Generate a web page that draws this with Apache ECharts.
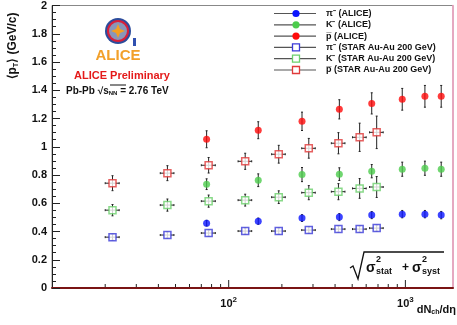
<!DOCTYPE html>
<html>
<head>
<meta charset="utf-8">
<script src="https://cdn.jsdelivr.net/npm/echarts@6/dist/echarts.min.js"></script>
<style>
  html, body { margin: 0; padding: 0; background: #fff; }
  #chart { width: 457px; height: 325px; }
</style>
</head>
<body>
<div id="chart"></div>
<script>
// ALICE Pb-Pb 2.76 TeV
var aliceX  = [75, 147, 260, 423, 645, 960, 1290, 1595];
var alicePi = [0.459, 0.473, 0.495, 0.502, 0.516, 0.523, 0.523, 0.516];
var aliceK  = [0.735, 0.763, 0.803, 0.806, 0.827, 0.841, 0.848, 0.841];
var aliceP  = [1.053, 1.117, 1.18, 1.265, 1.307, 1.336, 1.357, 1.357];
var alicePiErr = [0.02, 0.022, 0.024, 0.025, 0.025, 0.026, 0.026, 0.026];
var aliceKErr  = [0.038, 0.045, 0.05, 0.045, 0.047, 0.05, 0.05, 0.05];
var alicePErr  = [0.06, 0.06, 0.065, 0.068, 0.075, 0.077, 0.077, 0.077];

// STAR Au-Au 200 GeV
var starX  = [22, 45, 77, 124, 192, 284, 418, 551, 688];
var starXErr = [2, 4, 7, 11, 17, 25, 37, 49, 61];
var starPi = [0.36, 0.375, 0.389, 0.403, 0.403, 0.41, 0.417, 0.417, 0.424];
var starK  = [0.551, 0.587, 0.615, 0.622, 0.643, 0.675, 0.682, 0.705, 0.715];
var starP  = [0.742, 0.813, 0.869, 0.897, 0.947, 0.989, 1.025, 1.067, 1.102];
var starPiErr = [0.02, 0.02, 0.02, 0.02, 0.02, 0.02, 0.02, 0.02, 0.02];
var starKErr  = [0.04, 0.043, 0.043, 0.042, 0.045, 0.05, 0.057, 0.07, 0.074];
var starPErr  = [0.053, 0.053, 0.055, 0.057, 0.063, 0.07, 0.075, 0.1, 0.115];

var xMajorTicks = [100, 1000];
var xMinorTicks = [20, 30, 40, 50, 60, 70, 80, 90, 200, 300, 400, 500, 600, 700, 800, 900];

var names = ['π\u207B (ALICE)', 'K\u207B (ALICE)', 'p\u0305 (ALICE)',
  'π\u207B (STAR Au-Au 200 GeV)', 'K\u207B (STAR Au-Au 200 GeV)', 'p\u0305 (STAR Au-Au 200 GeV)'];
var colors = ['#0a14ff', '#4ccc4c', '#ff0a0a', '#3a3ad8', '#6cd06c', '#e03a3a'];

var font = 'Liberation Sans, Arial, sans-serif';

function pts(xs, ys, ey, ex) {
  return xs.map(function (x, i) { return [x, ys[i], ey[i], ex ? ex[i] : 0]; });
}

function errItem(params, api) {
  var x = api.value(0), y = api.value(1), ey = api.value(2), ex = api.value(3);
  var c = api.coord([x, y]);
  var lo = api.coord([x, y - ey]);
  var hi = api.coord([x, y + ey]);
  var st = { stroke: '#222', lineWidth: 1 };
  var kids = [
    { type: 'line', shape: { x1: c[0], y1: lo[1], x2: c[0], y2: hi[1] }, style: st },
    { type: 'line', shape: { x1: c[0] - 1, y1: lo[1], x2: c[0] + 1, y2: lo[1] }, style: st },
    { type: 'line', shape: { x1: c[0] - 1, y1: hi[1], x2: c[0] + 1, y2: hi[1] }, style: st }
  ];
  if (ex) {
    var l = api.coord([x - ex, y]);
    var r = api.coord([x + ex, y]);
    kids.push({ type: 'line', shape: { x1: l[0], y1: c[1], x2: r[0], y2: c[1] }, style: st });
    kids.push({ type: 'line', shape: { x1: l[0], y1: c[1] - 1, x2: l[0], y2: c[1] + 1 }, style: st });
    kids.push({ type: 'line', shape: { x1: r[0], y1: c[1] - 1, x2: r[0], y2: c[1] + 1 }, style: st });
  }
  return { type: 'group', children: kids };
}

// ticks on the log axis, drawn upward from the axis line
function tickItem(len) {
  return function (params, api) {
    var p = api.coord([api.value(0), api.value(1)]);
    return { type: 'line', shape: { x1: p[0], y1: p[1] - 1, x2: p[0], y2: p[1] - len },
      style: { stroke: '#222', lineWidth: 1 } };
  };
}

var sets = [
  pts(aliceX, alicePi, alicePiErr), pts(aliceX, aliceK, aliceKErr), pts(aliceX, aliceP, alicePErr),
  pts(starX, starPi, starPiErr, starXErr), pts(starX, starK, starKErr, starXErr), pts(starX, starP, starPErr, starXErr)
];

var series = [];
sets.forEach(function (d, i) {
  series.push({ type: 'custom', renderItem: errItem, data: d, z: 2, silent: true, clip: false });
});
sets.forEach(function (d, i) {
  var open = i >= 3;
  series.push({
    name: names[i], type: 'scatter', data: d, z: 5,
    symbol: open ? 'rect' : 'circle',
    symbolSize: 7,
    itemStyle: open ? { color: '#fff', borderColor: colors[i], borderWidth: 1.5 } : { color: colors[i] }
  });
});
series.push({ type: 'custom', renderItem: tickItem(8), data: xMajorTicks.map(function (v) { return [v, 0]; }), silent: true, z: 6, clip: false });
series.push({ type: 'custom', renderItem: tickItem(4), data: xMinorTicks.map(function (v) { return [v, 0]; }), silent: true, z: 6, clip: false });

// legend drawn by hand: line + marker + label per row
var legendGfx = [];
names.forEach(function (n, i) {
  var y = 13.5 + i * 11.3;
  var open = i >= 3;
  legendGfx.push({ type: 'line', shape: { x1: 274, y1: y, x2: 316, y2: y }, style: { stroke: '#555', lineWidth: 1.2 } });
  if (open) {
    legendGfx.push({ type: 'rect', shape: { x: 292.5, y: y - 3.5, width: 7, height: 7 },
      style: { fill: '#fff', stroke: colors[i], lineWidth: 1.3 } });
  } else {
    legendGfx.push({ type: 'circle', shape: { cx: 296, cy: y, r: 3.6 }, style: { fill: colors[i] } });
  }
  legendGfx.push({ type: 'text', x: 326, y: y, style: { text: n, font: 'bold 9px ' + font, fill: '#111', textVerticalAlign: 'middle' } });
});

var option = {
  animation: false,
  backgroundColor: '#fff',
  grid: { left: 52, right: 4, top: 5, bottom: 37, show: true, borderColor: '#888', borderWidth: 1 },
  xAxis: [{
    type: 'log', min: 10, max: 1860, logBase: 10,
    axisLine: { lineStyle: { color: '#7a1414', width: 2 } },
    axisTick: { show: false },
    splitLine: { show: false },
    axisLabel: {
      margin: 8,
      formatter: function (v) {
        if (Math.abs(v - 100) < 1) return '{b|10}{s|2}';
        if (Math.abs(v - 1000) < 1) return '{b|10}{s|3}';
        return '';
      },
      rich: {
        b: { fontFamily: font, fontWeight: 'bold', fontSize: 11, color: '#111' },
        s: { fontFamily: font, fontWeight: 'bold', fontSize: 8, color: '#111', padding: [0, 0, 7, 0] }
      }
    }
  }],
  yAxis: [{
    type: 'value', min: 0, max: 2, interval: 0.2,
    axisLine: { show: true, lineStyle: { color: '#222', width: 1 } },
    axisTick: { inside: true, length: 8, lineStyle: { color: '#222' } },
    minorTick: { show: true, splitNumber: 4, length: 4, lineStyle: { color: '#222' } },
    splitLine: { show: false },
    axisLabel: { margin: 5, fontFamily: font, fontWeight: 'bold', fontSize: 11, color: '#111' }
  }, {
    type: 'value', min: 0, max: 2, position: 'right',
    axisLine: { show: true, lineStyle: { color: '#f0a0c0', width: 1.5 } },
    axisTick: { show: false }, axisLabel: { show: false }, splitLine: { show: false }
  }],
  series: series,
  graphic: [
    // ALICE logo, rough
    { type: 'circle', shape: { cx: 118, cy: 31, r: 13 }, style: { fill: '#2c4c9c' } },
    { type: 'circle', shape: { cx: 118, cy: 31, r: 10 }, style: { fill: '#8a96b8', stroke: '#d8203a', lineWidth: 2 } },
    { type: 'polygon', shape: { points: [[118, 24], [120, 29], [125, 31], [120, 33], [118, 38], [116, 33], [111, 31], [116, 29]] },
      style: { fill: '#f4a020' } },
    { type: 'rect', shape: { x: 133, y: 38, width: 3, height: 8 }, style: { fill: '#3050b0' } },
    { type: 'text', x: 118, y: 56, style: { text: 'ALICE', font: 'bold 15px ' + font, fill: '#f2a02a', textAlign: 'center', textVerticalAlign: 'middle' } },
    { type: 'text', x: 122, y: 76, style: { text: 'ALICE Preliminary', font: 'bold 11px ' + font, fill: '#e41a1a', textAlign: 'center', textVerticalAlign: 'middle' } },
    { type: 'text', x: 66, y: 91, style: {
      text: '{a|Pb-Pb √}{a|s}{n|NN}{a| = 2.76 TeV}', textVerticalAlign: 'middle',
      rich: { a: { font: 'bold 10px ' + font, fill: '#111' }, n: { font: 'bold 6px ' + font, fill: '#111', padding: [5, 0, 0, 0] } } } },
    { type: 'line', shape: { x1: 110, y1: 85, x2: 126, y2: 85 }, style: { stroke: '#111', lineWidth: 1 } },
    // y title
    { type: 'text', x: 13, y: 46, rotation: Math.PI / 2, style: {
      text: '{a|⟨p}{t|T}{a|⟩ (GeV/c)}', textAlign: 'center', textVerticalAlign: 'middle',
      rich: { a: { font: 'bold 12px ' + font, fill: '#111' }, t: { font: 'bold 7px ' + font, fill: '#111', padding: [6, 0, 0, 0] } } } },
    // x title
    { type: 'text', x: 456, y: 310, style: {
      text: '{a|dN}{c|ch}{a|/dη}', textAlign: 'right', textVerticalAlign: 'middle',
      rich: { a: { font: 'bold 11px ' + font, fill: '#111' }, c: { font: 'bold 7px ' + font, fill: '#111', padding: [5, 0, 0, 0] } } } },
    // sqrt(sigma_stat^2 + sigma_syst^2)
    { type: 'polyline', shape: { points: [[350, 268], [353, 266], [358, 279], [364, 252], [444, 252]] }, style: { stroke: '#111', lineWidth: 1.3, fill: null } },
    { type: 'text', x: 366, y: 268, style: { text: 'σ', font: 'bold 14px ' + font, fill: '#111', textVerticalAlign: 'middle' } },
    { type: 'text', x: 376, y: 260, style: { text: '2', font: 'bold 9px ' + font, fill: '#111', textVerticalAlign: 'middle' } },
    { type: 'text', x: 376, y: 272, style: { text: 'stat', font: 'bold 9px ' + font, fill: '#111', textVerticalAlign: 'middle' } },
    { type: 'text', x: 402, y: 268, style: { text: '+', font: 'bold 12px ' + font, fill: '#111', textVerticalAlign: 'middle' } },
    { type: 'text', x: 412, y: 268, style: { text: 'σ', font: 'bold 14px ' + font, fill: '#111', textVerticalAlign: 'middle' } },
    { type: 'text', x: 422, y: 260, style: { text: '2', font: 'bold 9px ' + font, fill: '#111', textVerticalAlign: 'middle' } },
    { type: 'text', x: 422, y: 272, style: { text: 'syst', font: 'bold 9px ' + font, fill: '#111', textVerticalAlign: 'middle' } }
  ].concat(legendGfx)
};

var chart = echarts.init(document.getElementById('chart'));
chart.setOption(option);
</script>
</body>
</html>
